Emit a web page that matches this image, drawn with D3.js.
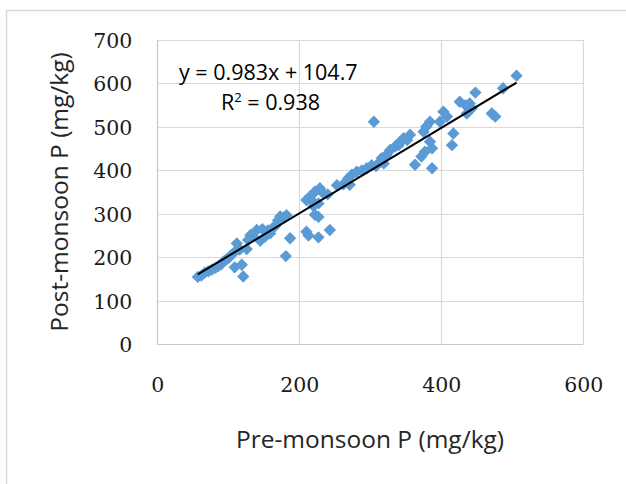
<!DOCTYPE html>
<html>
<head>
<meta charset="utf-8">
<script src="https://cdn.jsdelivr.net/npm/d3@7"></script>
<style>
  html, body { margin: 0; padding: 0; background: #fff; }
  svg { display: block; }
</style>
</head>
<body>
<svg id="chart" width="626" height="484"></svg>
<script>
// ---- data ----
const preMonsoon = [
  57, 62, 67, 72, 77, 82, 86, 90, 93, 97, 100, 104, 108, 112, 109, 119, 121, 116, 126, 128,
  131, 135, 140, 145, 148, 152, 156, 159, 163, 166, 170, 173, 178, 182, 187, 181,
  210, 213, 227, 243, 222, 227, 210, 215, 218, 222, 229, 234, 227, 220, 240, 253, 262, 269,
  271, 274, 281, 288, 295, 302, 305, 308, 314, 316, 319, 323, 328, 335, 342, 347, 352, 356, 340,
  363, 372, 377, 384, 387, 387, 375, 379, 384, 398, 403, 408, 417, 415, 426, 434, 440, 443,
  436, 448, 471, 476, 487, 506
];
const postMonsoon = [
  155, 158, 165, 168, 172, 176, 180, 184, 190, 195, 198, 205, 211, 232, 177, 183, 156, 218, 219, 240,
  251, 248, 263, 238, 265, 248, 262, 255, 268, 272, 285, 294, 292, 297, 244, 203,
  259, 250, 246, 263, 298, 293, 332, 340, 330, 351, 359, 347, 324, 318, 345, 366, 368, 382,
  367, 390, 397, 400, 405, 412, 512, 410, 420, 428, 416, 436, 447, 455, 466, 474, 470, 482, 458,
  413, 432, 443, 466, 451, 405, 489, 501, 512, 512, 535, 524, 485, 458, 558, 550, 554, 543,
  531, 579, 531, 524, 589, 618
];
const xTicks = [0, 200, 400, 600];
const yTicks = [0, 100, 200, 300, 400, 500, 600, 700];
const slope = 0.983;
const intercept = 104.7;
const eqLabel = "y = 0.983x + 104.7";
const r2Value = "0.938";
const xTitle = "Pre-monsoon P (mg/kg)";
const yTitle = "Post-monsoon P (mg/kg)";

// ---- layout ----
const svg = d3.select("#chart");
const plot = { left: 157.3, right: 583.3, top: 40, bottom: 344.3 };

const x = d3.scaleLinear().domain([0, 600]).range([plot.left, plot.right]);
const y = d3.scaleLinear().domain([0, 700]).range([plot.bottom, plot.top]);

// outer chart border
svg.append("rect")
  .attr("x", 6.5).attr("y", 10.5).attr("width", 700).attr("height", 600)
  .attr("fill", "none").attr("stroke", "#d9d9d9").attr("stroke-width", 1.5);

// gridlines
const grid = svg.append("g");
grid.selectAll("line.h").data(yTicks).join("line")
  .attr("x1", plot.left).attr("x2", plot.right)
  .attr("y1", d => Math.round(y(d)) + 0.5).attr("y2", d => Math.round(y(d)) + 0.5)
  .attr("stroke", d => d === 0 ? "#c8c8c8" : "#d9d9d9").attr("stroke-width", 1.2);
grid.selectAll("line.v").data(xTicks).join("line")
  .attr("y1", plot.top).attr("y2", plot.bottom)
  .attr("x1", d => Math.round(x(d)) + 0.5).attr("x2", d => Math.round(x(d)) + 0.5)
  .attr("stroke", d => d === 0 ? "#c8c8c8" : "#d9d9d9").attr("stroke-width", 1.2);

// axes (labels only, using d3 axes)
const tickFont = "'DejaVu Serif', serif";
const yAxis = svg.append("g")
  .attr("transform", `translate(${plot.left},0)`)
  .call(d3.axisLeft(y).tickValues(yTicks).tickSize(0).tickPadding(25));
yAxis.select(".domain").remove();
yAxis.selectAll("text")
  .attr("font-family", tickFont).attr("font-size", 20.5).attr("fill", "#1a1a1a")
  .attr("dy", "0.36em");

const xAxis = svg.append("g")
  .attr("transform", `translate(0,${plot.bottom})`)
  .call(d3.axisBottom(x).tickValues(xTicks).tickSize(0).tickPadding(33));
xAxis.select(".domain").remove();
xAxis.selectAll("text")
  .attr("font-family", tickFont).attr("font-size", 20.5).attr("fill", "#1a1a1a")
  .attr("dy", "0.71em");

// points
const pts = preMonsoon.map((v, i) => [v, postMonsoon[i]]);
const diamond = d3.symbol().type(d3.symbolSquare).size(76);
svg.append("g").selectAll("path").data(pts).join("path")
  .attr("d", diamond)
  .attr("transform", d => `translate(${x(d[0])},${y(d[1])}) rotate(45)`)
  .attr("fill", "#5b9bd5");

// trendline
const xMin = d3.min(preMonsoon), xMax = d3.max(preMonsoon);
svg.append("line")
  .attr("x1", x(xMin)).attr("y1", y(slope * xMin + intercept))
  .attr("x2", x(xMax)).attr("y2", y(slope * xMax + intercept))
  .attr("stroke", "#000").attr("stroke-width", 2);

// equation labels
const labFont = "'Open Sans', 'Liberation Sans', sans-serif";
svg.append("text")
  .attr("x", 179).attr("y", 80)
  .attr("font-family", labFont).attr("font-size", 21.5).attr("fill", "#000")
  .text(eqLabel);
const r2 = svg.append("text")
  .attr("x", 221).attr("y", 110)
  .attr("font-family", labFont).attr("font-size", 21.5).attr("fill", "#000");
r2.append("tspan").text("R");
r2.append("tspan").attr("font-size", 13).attr("dy", -8).text("2");
r2.append("tspan").attr("dy", 8).text(" = " + r2Value);

// axis titles
svg.append("text")
  .attr("x", 370).attr("y", 448)
  .attr("text-anchor", "middle")
  .attr("font-family", labFont).attr("font-size", 24.5).attr("fill", "#262626")
  .text(xTitle);
svg.append("text")
  .attr("transform", "translate(68,192) rotate(-90)")
  .attr("text-anchor", "middle")
  .attr("font-family", labFont).attr("font-size", 24.5).attr("fill", "#262626")
  .text(yTitle);
</script>
</body>
</html>
